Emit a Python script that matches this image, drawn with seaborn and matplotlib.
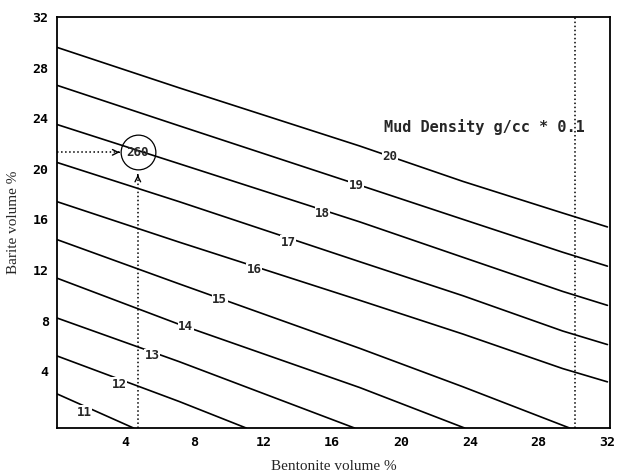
import matplotlib
matplotlib.use("Agg")
import matplotlib.pyplot as plt
import seaborn as sns
import pandas as pd

# mud density lines (g/cc * 0.1)
densities = [11, 12, 13, 14, 15, 16, 17, 18, 19, 20]
line_x = [
    [0, 4.45],
    [0, 7.1, 11.0],
    [0, 7.1, 17.3],
    [0, 7.1, 17.6, 23.7],
    [0, 7.1, 17.6, 23.6, 29.8],
    [0, 7.1, 17.6, 23.6, 29.4, 32.0],
    [0, 7.1, 17.6, 23.6, 29.4, 32.0],
    [0, 7.1, 17.6, 23.6, 29.4, 32.0],
    [0, 7.1, 17.6, 23.6, 29.4, 32.0],
    [0, 7.1, 17.6, 23.6, 29.4, 32.0],
]
line_y = [
    [2.2, -0.5],
    [5.2, 1.6, -0.5],
    [8.2, 4.75, -0.5],
    [11.35, 7.7, 2.7, -0.5],
    [14.4, 10.9, 5.8, 2.76, -0.5],
    [17.4, 14.2, 9.6, 6.93, 4.2, 3.15],
    [20.5, 17.4, 12.65, 9.96, 7.17, 6.1],
    [23.5, 20.4, 15.8, 13.0, 10.3, 9.2],
    [26.6, 23.4, 18.7, 16.0, 13.4, 12.3],
    [29.6, 26.4, 21.8, 19.0, 16.5, 15.4],
]
label_x = [1.57, 3.6, 5.54, 7.48, 9.46, 11.45, 13.45, 15.43, 17.4, 19.34]
label_y = [0.75, 2.97, 5.2, 7.5, 9.7, 12.0, 14.2, 16.5, 18.7, 20.97]

# example point marked on the chart
pt_bent = 4.7
pt_bar = 21.3
pt_text = "260"
limit_bent = 30.1

ticks = [4, 8, 12, 16, 20, 24, 28, 32]

rows = []
for d, xs, ys in zip(densities, line_x, line_y):
    for x, y in zip(xs, ys):
        rows.append({"density": d, "bentonite": x, "barite": y})
df = pd.DataFrame(rows)

sns.set_style("white")
mono = "DejaVu Sans Mono"
serif = "Liberation Serif"

fig = plt.figure(figsize=(6.24, 4.75), dpi=100)
ax = fig.add_axes([0.0913, 0.0989, 0.8863, 0.8653])

sns.lineplot(data=df, x="bentonite", y="barite", units="density", estimator=None,
             sort=False, color="black", linewidth=1.2, ax=ax)

for d, x, y in zip(densities, label_x, label_y):
    ax.text(x, y, str(d), fontsize=9, fontfamily=mono, fontweight="bold",
            ha="center", va="center", zorder=5,
            bbox=dict(facecolor="white", edgecolor="none", pad=0.3))

# dotted guides
ax.plot([limit_bent, limit_bent], [-0.5, 32], color="black", linestyle=":", linewidth=1.1)
ax.plot([pt_bent, pt_bent], [-0.5, 19.6], color="black", linestyle=":", linewidth=1.1)
ax.plot([0, 3.6], [pt_bar, pt_bar], color="black", linestyle=":", linewidth=1.1)
ax.annotate("", xy=(3.8, pt_bar), xytext=(3.45, pt_bar),
            arrowprops=dict(arrowstyle="->", lw=1.0, color="black"))
ax.annotate("", xy=(pt_bent, 19.75), xytext=(pt_bent, 19.3),
            arrowprops=dict(arrowstyle="->", lw=1.0, color="black"))

ax.plot([pt_bent], [pt_bar], marker="o", markersize=25, markerfacecolor="none",
        markeredgecolor="black", markeredgewidth=0.9, zorder=6)
ax.text(pt_bent, pt_bar, pt_text, fontsize=9, fontfamily=mono, fontweight="bold",
        ha="center", va="center", zorder=7)

ax.text(19.0, 23.3, "Mud Density g/cc * 0.1", fontsize=11, fontfamily=mono,
        fontweight="bold", ha="left", va="center")

ax.set_xlim(0, 32.15)
ax.set_ylim(-0.5, 32)
ax.set_xticks(ticks)
ax.set_yticks(ticks)
ax.set_xticklabels([str(t) for t in ticks], fontfamily=mono, fontweight="bold", fontsize=9.5)
ax.set_yticklabels([str(t) for t in ticks], fontfamily=mono, fontweight="bold", fontsize=9.5)
ax.tick_params(direction="inout", length=6, width=1.2, colors="black", pad=3)

for s in ax.spines.values():
    s.set_color("black")
    s.set_linewidth(1.3)
    s.set_visible(True)

ax.set_xlabel("Bentonite volume %", fontfamily=serif, fontsize=11, labelpad=8)
ax.set_ylabel("Barite volume %", fontfamily=serif, fontsize=11, labelpad=9)

fig.savefig("out.png", dpi=100)
